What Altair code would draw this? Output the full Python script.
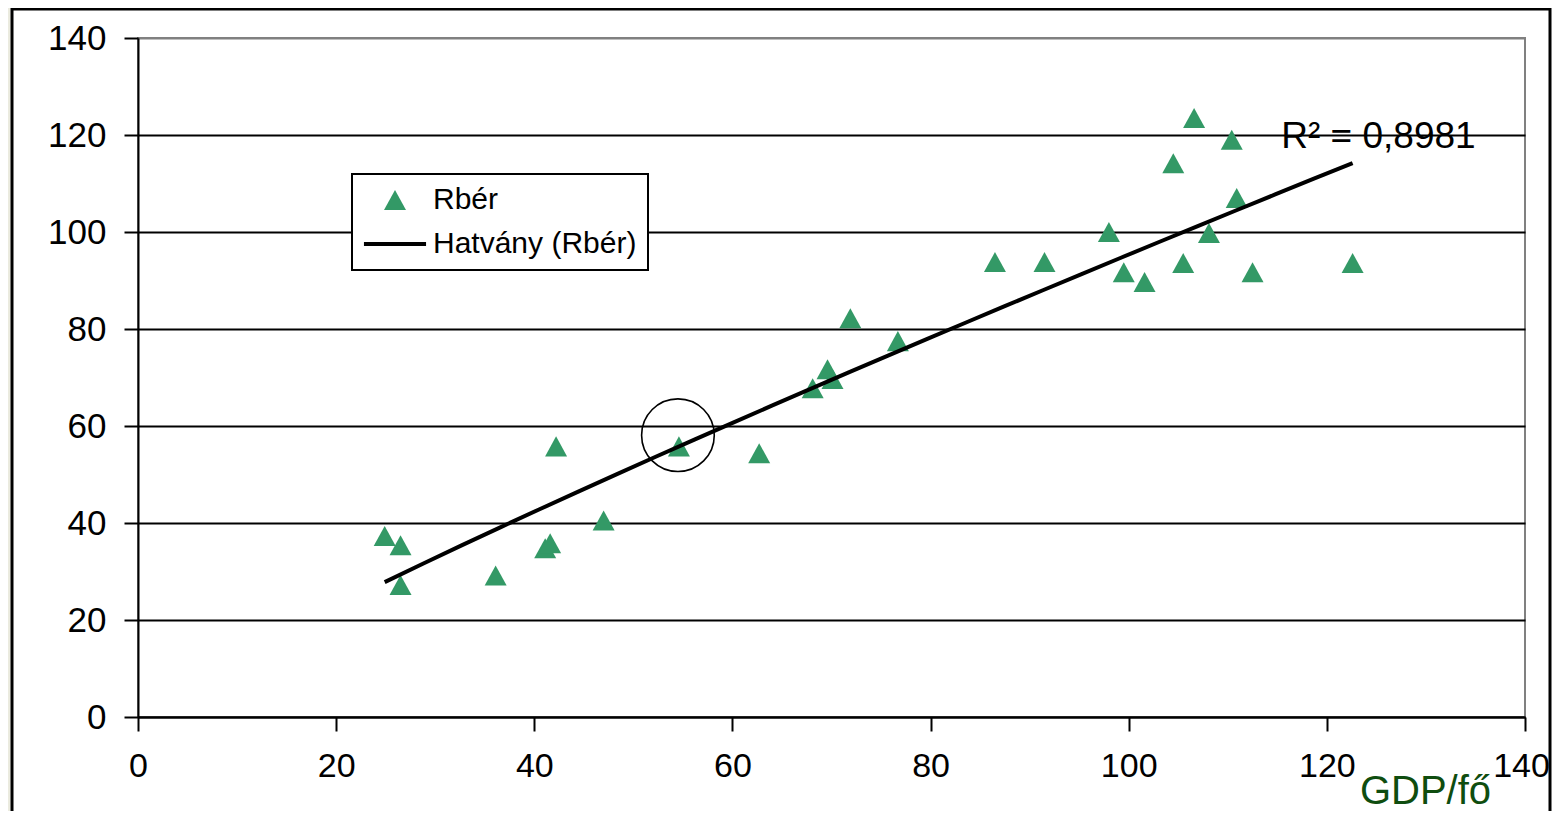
import altair as alt
import pandas as pd

# ---- data ----
gdp = [24.9, 26.5, 26.5, 36.1, 41.1, 41.6, 42.2, 47.0, 54.6, 62.7, 68.1, 69.6, 70.1, 71.9,
       76.7, 86.5, 91.5, 98.0, 99.5, 101.6, 104.5, 105.5, 106.6, 108.1, 110.4, 110.9, 112.5, 122.6]
rber = [37.3, 35.4, 27.2, 29.2, 34.8, 35.8, 55.8, 40.5, 55.8, 54.4, 67.8, 71.7, 69.7, 82.2,
        77.5, 93.8, 93.8, 100.0, 91.7, 89.7, 114.2, 93.6, 123.5, 99.8, 119.0, 107.0, 91.7, 93.6]
series_names = ["Rbér", "Hatvány (Rbér)"]
x_ticks = [0, 20, 40, 60, 80, 100, 120, 140]
y_ticks = [0, 20, 40, 60, 80, 100, 120, 140]
r2_label = "R² = 0,8981"
x_title = "GDP/fő"
highlight_gdp = [54.5]
highlight_rber = [58.1]

GREEN = "#339966"
FONT = "Liberation Sans"

df = pd.DataFrame({"gdp": gdp, "rber": rber, "series": series_names[0]})
one = pd.DataFrame({"k": [0]})
hl = pd.DataFrame({"gdp": highlight_gdp, "rber": highlight_rber})

tri_path = "M0,-0.667L0.733,0.667L-0.733,0.667Z"
bar_path = "M-2.07,-0.13H2.07V0.13H-2.07Z"

xscale = alt.Scale(domain=[0, 140], nice=False, zero=True)
yscale = alt.Scale(domain=[0, 140], nice=False, zero=True)

x_axis = alt.Axis(values=x_ticks, title=x_title, grid=False, domainColor="black", domainWidth=2,
                  tickColor="black", tickWidth=2, tickSize=14, labelFont=FONT, labelFontSize=34,
                  labelColor="black", labelPadding=18, labelFlush=False, labelOverlap=False,
                  labelOffset={"condition": {"test": "datum.value === 140", "value": -4}, "value": 0},
                  format="d", titleX=1287, titleY=86, titleAlign="center",
                  titleBaseline="alphabetic", titleFont=FONT, titleFontSize=40,
                  titleFontWeight="normal", titleColor="#0F4D0F")
y_axis = alt.Axis(values=y_ticks, title=None, grid=True,
                  gridColor={"condition": {"test": "datum.value === 140", "value": "#808080"},
                             "value": "black"},
                  gridWidth=2, domainColor="black", domainWidth=2,
                  tickColor="black", tickWidth=2, tickSize=14, labelFont=FONT, labelFontSize=35,
                  labelColor="black", labelPadding=18, labelOverlap=False, format="d")

leg = alt.Legend(title=None, orient="none", legendX=214, legendY=136, direction="vertical",
                 fillColor="white", strokeColor="black", padding=11, cornerRadius=0,
                 labelFont=FONT, labelFontSize=30, labelColor="black", labelOffset=23,
                 labelLimit=0, symbolOffset=17, rowPadding=14, symbolSize=900,
                 symbolStrokeWidth=0, symbolOpacity=1)

points = alt.Chart(df).mark_point(filled=True, size=900, opacity=1, strokeWidth=0).encode(
    x=alt.X("gdp:Q", scale=xscale, axis=x_axis),
    y=alt.Y("rber:Q", scale=yscale, axis=y_axis),
    color=alt.Color("series:N", scale=alt.Scale(domain=series_names, range=[GREEN, "black"]), legend=leg),
    shape=alt.Shape("series:N", scale=alt.Scale(domain=series_names, range=[tri_path, bar_path]), legend=leg),
)

trend = alt.Chart(df).transform_regression("gdp", "rber", method="pow").mark_line(
    color="black", strokeWidth=4).encode(x="gdp:Q", y="rber:Q")

circle = alt.Chart(hl).mark_point(shape="circle", size=5281, filled=False, stroke="black",
                                  strokeWidth=1.6, opacity=1).encode(x="gdp:Q", y="rber:Q")

r2 = alt.Chart(one).mark_text(text=r2_label, align="left", baseline="alphabetic", font=FONT,
                              fontSize=37, color="black").encode(
    x=alt.datum(115.4), y=alt.datum(117.3))

frame = alt.Chart(one).mark_rect(fill="transparent", stroke="black", strokeWidth=3).encode(
    x=alt.value(-126), x2=alt.value(1412), y=alt.value(-29), y2=alt.value(820))
beige = alt.Chart(one).mark_rect(color="#EBEBDF").encode(
    x=alt.value(-131), x2=alt.value(-127.5), y=alt.value(-31), y2=alt.value(820))

chart = alt.layer(beige, frame, points, trend, circle, r2).properties(
    width=1387, height=679,
    autosize=alt.AutoSizeParams(type="none"),
    padding={"left": 130, "top": 30, "right": 27, "bottom": 94},
    background="white",
).configure_view(stroke="#808080", strokeWidth=2, fill="white").configure_legend(strokeWidth=2)

chart.save("out.html", embed_options={"renderer": "svg", "actions": False})
